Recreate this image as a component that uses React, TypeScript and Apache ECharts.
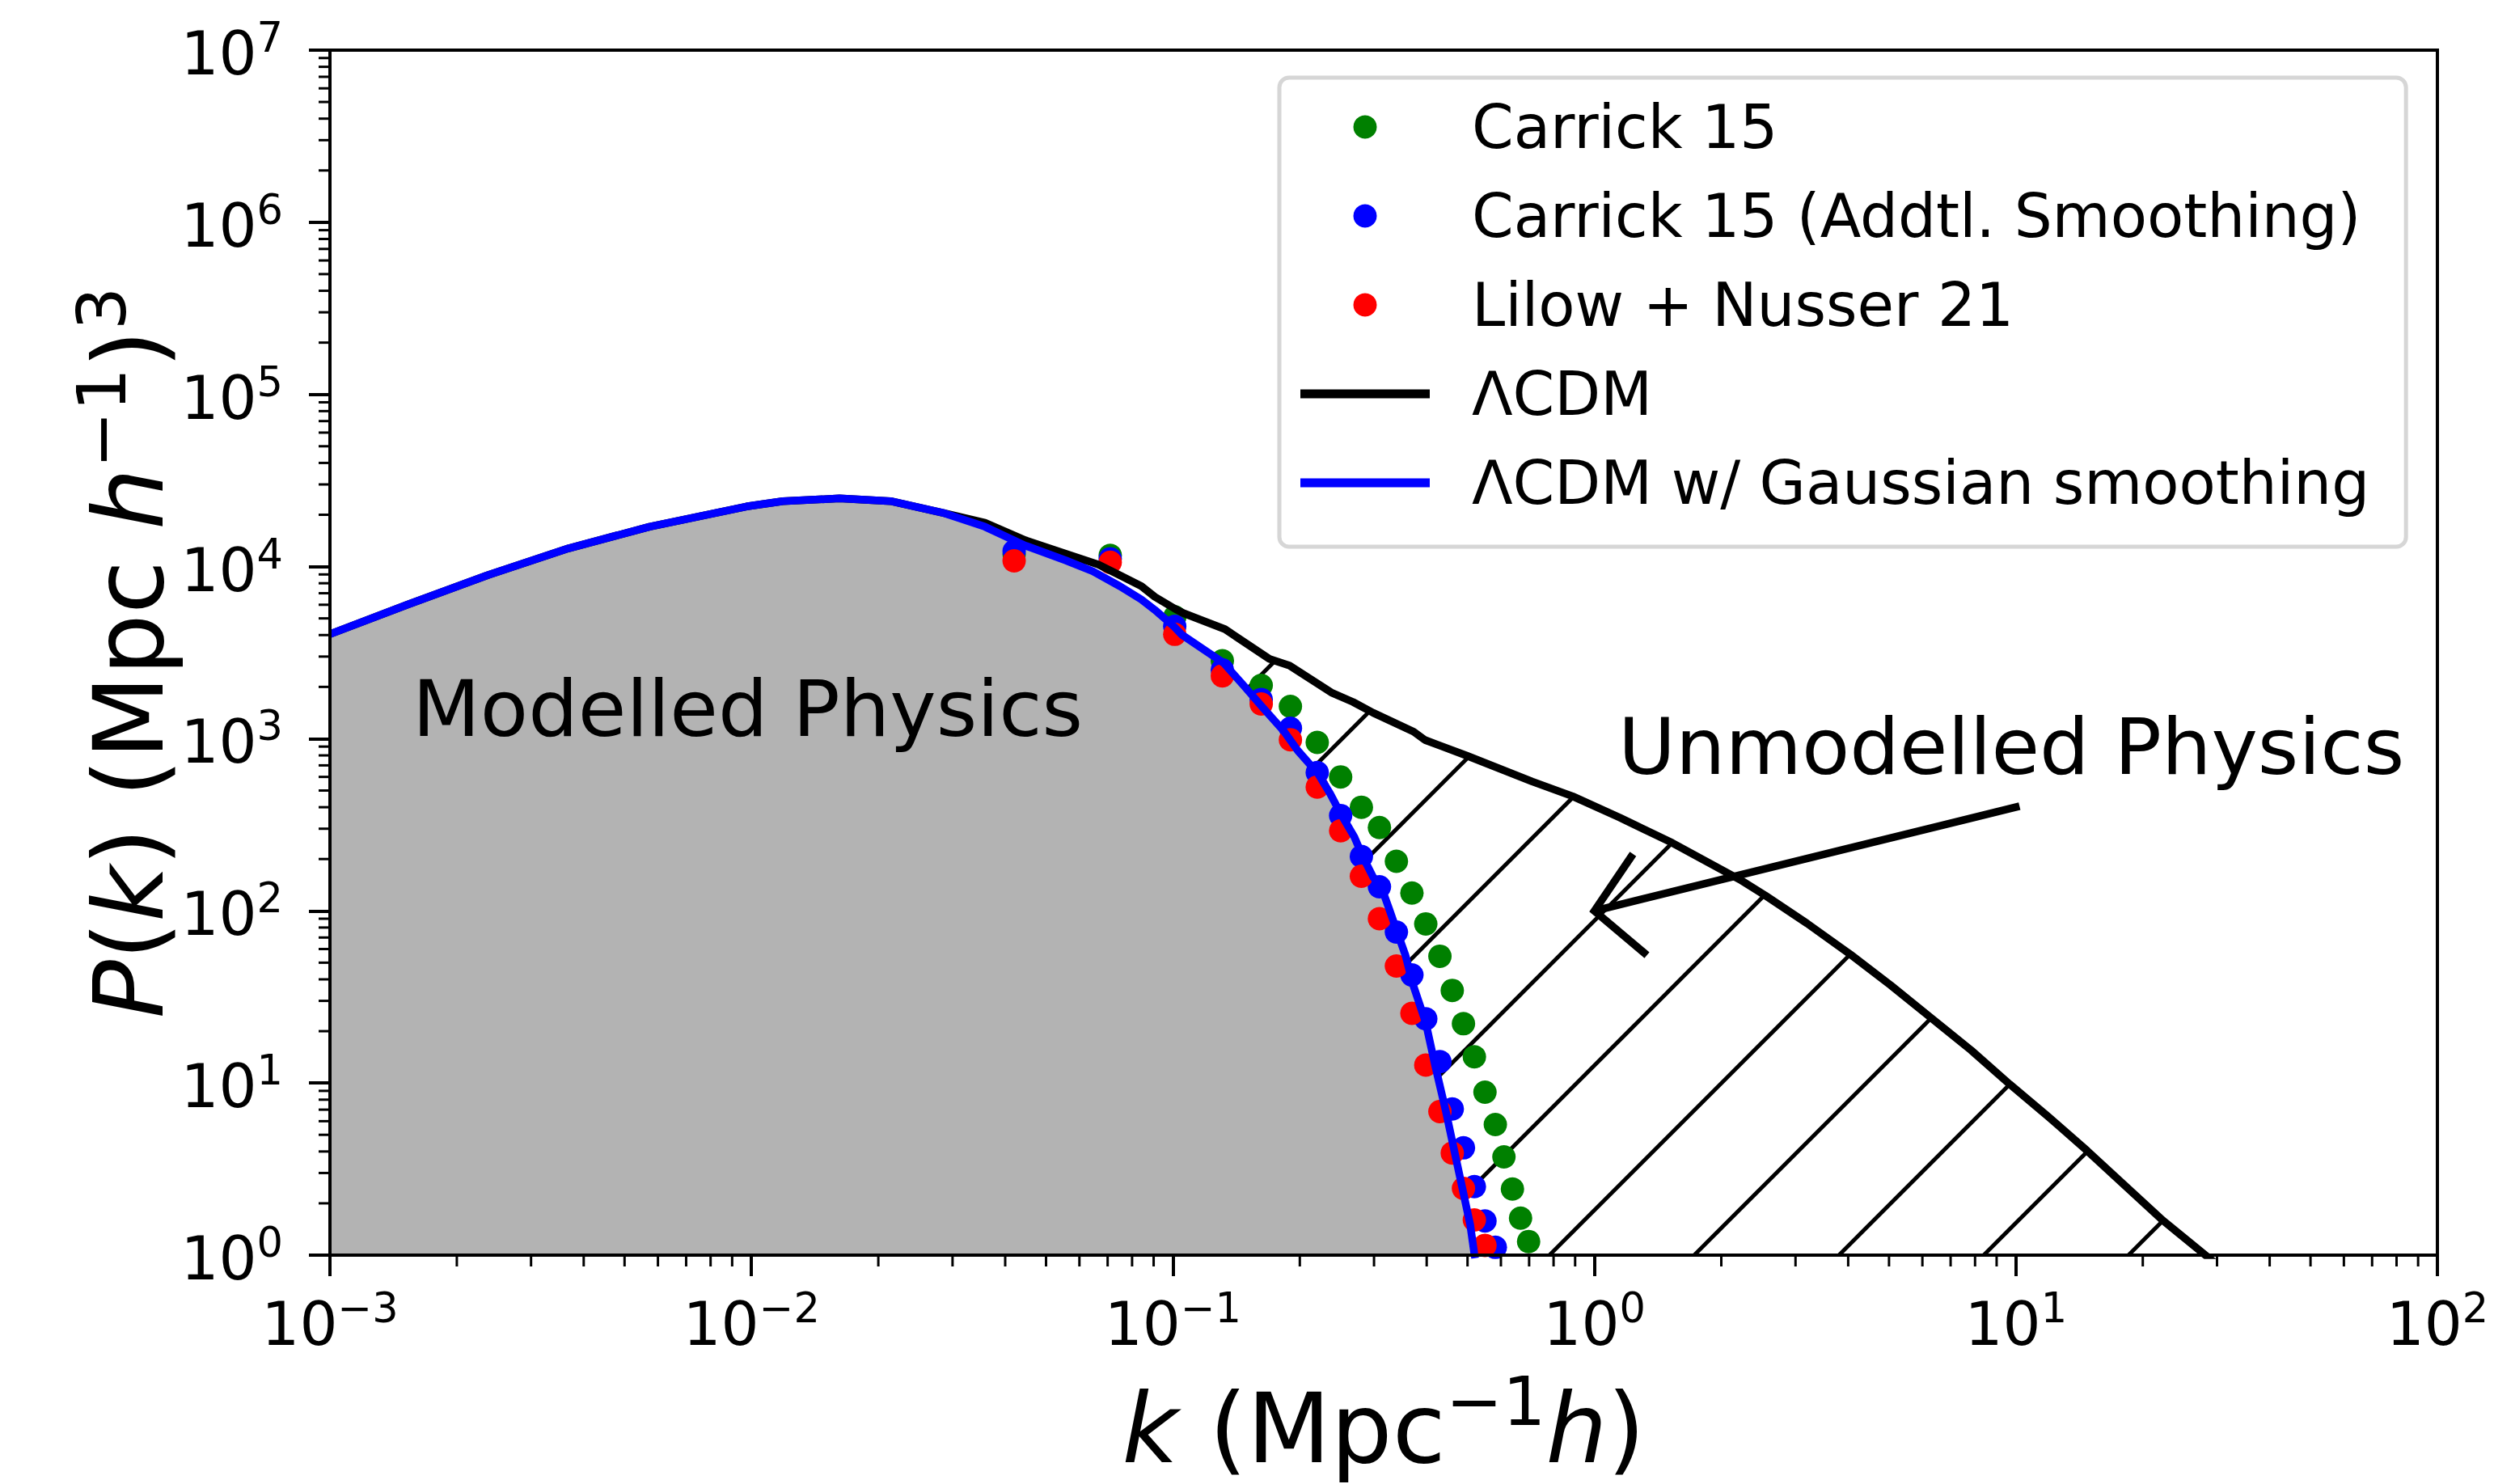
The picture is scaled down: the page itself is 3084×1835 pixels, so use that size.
import React, { useEffect, useRef } from 'react';
import * as echarts from 'echarts';

// ---------------- data ----------------
// wavenumbers of the reconstructed-field points (h/Mpc)
const dataK = [0.042, 0.071, 0.101, 0.131, 0.162, 0.190, 0.220, 0.250, 0.280, 0.309, 0.339, 0.369, 0.398, 0.430, 0.460, 0.489, 0.519, 0.550, 0.582, 0.610, 0.639, 0.668, 0.698];
const carrick15 = [11800, 11600, 5100, 2840, 2040, 1540, 952, 600, 400, 305, 194, 127, 84, 54.5, 34.5, 22.1, 14.2, 8.84, 5.74, 3.72, 2.42, 1.64, 1.20];
const carrick15Smooth = [12300, 11100, 4490, 2510, 1690, 1150, 636, 358, 207, 138, 75.3, 42.4, 23.6, 13.3, 7.07, 4.2, 2.5, 1.58, 1.11];
const lilowNusser21 = [10800, 10580, 4040, 2320, 1590, 987, 524, 292, 159, 90, 47.8, 25.4, 12.7, 6.83, 3.92, 2.44, 1.60, 1.14];

// LambdaCDM linear power spectrum
const lcdmK = [0.001, 0.001521, 0.002366, 0.003681, 0.005727, 0.00973, 0.01187, 0.01617, 0.02139, 0.02872, 0.03581, 0.04467, 0.05572, 0.06648, 0.07477, 0.08414, 0.0906, 0.1009, 0.1057, 0.1329, 0.1694, 0.1891, 0.2376, 0.2674, 0.2985, 0.3724, 0.3962, 0.5000, 0.7118, 0.888, 1.149, 1.531, 2.212, 2.543, 3.194, 4.048, 5.045, 6.283, 7.83, 9.669, 11.94, 14.76, 18.23, 22.33, 28.29, 29.7];
const lcdmP = [4050, 5985, 8903, 12760, 17030, 22330, 23980, 24880, 23980, 20390, 17980, 14220, 11870, 10280, 8903, 7700, 6670, 5700, 5374, 4327, 2910, 2659, 1855, 1635, 1415, 1099, 983, 794, 564, 463, 348, 248, 152, 122.8, 84.6, 55.9, 37.0, 23.95, 15.5, 9.83, 6.37, 4.04, 2.51, 1.59, 0.99, 0.9];

// LambdaCDM with Gaussian smoothing
const smoothK = [0.001, 0.001521, 0.002366, 0.003681, 0.005727, 0.00973, 0.01187, 0.01617, 0.02139, 0.02872, 0.03581, 0.04467, 0.05572, 0.06455, 0.07477, 0.08414, 0.0906, 0.1007, 0.1049, 0.1319, 0.1473, 0.1632, 0.1837, 0.1977, 0.2208, 0.2360, 0.2502, 0.2694, 0.2815, 0.2986, 0.3120, 0.3261, 0.3408, 0.3563, 0.3710, 0.3980, 0.4190, 0.4444, 0.4644, 0.4855, 0.5074, 0.5187, 0.521];
const smoothP = [4050, 5985, 8903, 12760, 17030, 22330, 23980, 24880, 23980, 20390, 17030, 13230, 10850, 9398, 7700, 6436, 5600, 4470, 4024, 2756, 2030, 1520, 1099, 854, 629, 480, 366, 269, 209, 157, 138, 102, 74.9, 55.1, 37.5, 22.4, 12.6, 6.81, 4.11, 2.48, 1.50, 1.025, 0.96];

// axes
const xRange = [1e-3, 1e2];
const yRange = [1, 1e7];
const minorMantissas = [2, 3, 4, 5, 6, 7, 8, 9];
const xMinorDecades = [-3, -2, -1, 0, 1];
const yMinorDecades = [0, 1, 2, 3, 4, 5, 6];

// legend / labels
const seriesNames = ['Carrick 15', 'Carrick 15 (Addtl. Smoothing)', 'Lilow + Nusser 21', 'ΛCDM', 'ΛCDM w/ Gaussian smoothing'];
const annotationTexts = ['Modelled Physics', 'Unmodelled Physics'];
const modelledTextAt = [0.00157, 1490];
const unmodelledTextAt = [9.75, 895];
const arrowTip = [1, 100];
const arrowTail = [10.2, 405];

// ---------------- styles ----------------
const FONT = 'DejaVu Sans';
const GREEN = '#008000';
const BLUE = '#0000ff';
const RED = '#ff0000';
const GREY = '#b3b3b3';
const LINE_W = 9.5;
const HATCH_SPACING = 179;
const HATCH_PHASE = 3631;
const HATCH_W = 5;
const MINOR_LEN = 14;

const zip = (xs: number[], ys: number[]) => ys.map((y, i) => [xs[i], y]);

const xMinorTicks: number[] = [];
xMinorDecades.forEach((e) => minorMantissas.forEach((m) => xMinorTicks.push(m * Math.pow(10, e))));
const yMinorTicks: number[] = [];
yMinorDecades.forEach((e) => minorMantissas.forEach((m) => yMinorTicks.push(m * Math.pow(10, e))));

const expText = (v: number) => {
  const e = Math.round(Math.log10(v));
  return e < 0 ? '\u2212' + String(-e) : String(e);
};
const tickFormatter = (v: number) => '{b|10}{s|' + expText(v) + '}';
const tickRich = {
  b: { fontSize: 74, lineHeight: 82, verticalAlign: 'bottom', color: '#000', fontFamily: FONT },
  s: { fontSize: 51, lineHeight: 50, verticalAlign: 'top', color: '#000', fontFamily: FONT },
};
const nameRich = {
  i: { fontSize: 120, lineHeight: 135, fontStyle: 'italic', verticalAlign: 'bottom', color: '#000', fontFamily: FONT },
  r: { fontSize: 120, lineHeight: 135, verticalAlign: 'bottom', color: '#000', fontFamily: FONT },
  s: { fontSize: 84, lineHeight: 84, verticalAlign: 'top', color: '#000', fontFamily: FONT },
};

function renderHatch(params: any, api: any) {
  const cs = params.coordSys;
  const left = cs.x, top = cs.y, right = cs.x + cs.width, bottom = cs.y + cs.height;
  const poly: number[][] = lcdmK.map((k, i) => api.coord([k, lcdmP[i]]));
  const first = poly[0];
  const last = poly[poly.length - 1];
  poly.push([last[0], bottom + 200]);
  poly.push([first[0], bottom + 200]);
  const children: any[] = [];
  const cMin = left + top;
  const cMax = right + bottom;
  let c = HATCH_PHASE + Math.ceil((cMin - HATCH_PHASE) / HATCH_SPACING) * HATCH_SPACING;
  for (; c <= cMax; c += HATCH_SPACING) {
    const xs: number[] = [];
    for (let i = 0; i < poly.length; i++) {
      const a = poly[i];
      const b = poly[(i + 1) % poly.length];
      const s1 = a[0] + a[1] - c;
      const s2 = b[0] + b[1] - c;
      if ((s1 > 0) !== (s2 > 0)) {
        const t = s1 / (s1 - s2);
        xs.push(a[0] + t * (b[0] - a[0]));
      }
    }
    xs.sort((p, q) => p - q);
    for (let j = 0; j + 1 < xs.length; j += 2) {
      const x1 = Math.max(xs[j], left, c - bottom);
      const x2 = Math.min(xs[j + 1], right, c - top);
      if (x2 > x1) {
        children.push({
          type: 'line',
          shape: { x1, y1: c - x1, x2, y2: c - x2 },
          style: { stroke: '#000', lineWidth: HATCH_W, lineCap: 'butt' },
        });
      }
    }
  }
  return { type: 'group', children };
}

function renderAnnotations(params: any, api: any) {
  const tip = api.coord(arrowTip);
  const tail = api.coord(arrowTail);
  const dx = tail[0] - tip[0];
  const dy = tail[1] - tip[1];
  const len = Math.hypot(dx, dy);
  const ux = dx / len;
  const uy = dy / len;
  const rot = (deg: number) => {
    const a = (deg * Math.PI) / 180;
    return [ux * Math.cos(a) - uy * Math.sin(a), ux * Math.sin(a) + uy * Math.cos(a)];
  };
  const up = rot(-42);
  const lo = rot(54);
  const headLen = 85;
  const p1 = api.coord(modelledTextAt);
  const p2 = api.coord(unmodelledTextAt);
  return {
    type: 'group',
    children: [
      {
        type: 'text',
        x: p1[0],
        y: p1[1],
        style: { text: annotationTexts[0], fontSize: 97, fontFamily: FONT, fill: '#000', align: 'left', verticalAlign: 'middle' },
      },
      {
        type: 'text',
        x: p2[0],
        y: p2[1],
        style: { text: annotationTexts[1], fontSize: 97, fontFamily: FONT, fill: '#000', align: 'center', verticalAlign: 'middle' },
      },
      {
        type: 'line',
        shape: { x1: tail[0], y1: tail[1], x2: tip[0], y2: tip[1] },
        style: { stroke: '#000', lineWidth: LINE_W, lineCap: 'butt' },
      },
      {
        type: 'polyline',
        shape: {
          points: [
            [tip[0] + up[0] * headLen, tip[1] + up[1] * headLen],
            [tip[0], tip[1]],
            [tip[0] + lo[0] * headLen, tip[1] + lo[1] * headLen],
          ],
        },
        style: { stroke: '#000', fill: null, lineWidth: LINE_W, lineJoin: 'miter', lineCap: 'butt' },
      },
    ],
  };
}

function renderMinorTicks(params: any, api: any) {
  const cs = params.coordSys;
  const bottom = cs.y + cs.height;
  const left = cs.x;
  const children: any[] = [];
  xMinorTicks.forEach((v) => {
    const x = api.coord([v, 10])[0];
    children.push({ type: 'line', shape: { x1: x, y1: bottom, x2: x, y2: bottom + MINOR_LEN }, style: { stroke: '#000', lineWidth: 3 } });
  });
  yMinorTicks.forEach((v) => {
    const y = api.coord([1, v])[1];
    children.push({ type: 'line', shape: { x1: left - MINOR_LEN, y1: y, x2: left, y2: y }, style: { stroke: '#000', lineWidth: 3 } });
  });
  return { type: 'group', children };
}

const axisCommon = {
  type: 'log',
  logBase: 10,
  z: 8,
  axisLine: { show: true, lineStyle: { color: '#000', width: 4 } },
  axisTick: { show: true, inside: false, length: 26, lineStyle: { color: '#000', width: 4 } },
  minorTick: { show: false },
  splitLine: { show: false },
  minorSplitLine: { show: false },
  nameLocation: 'middle',
  nameMoveOverlap: false,
};

const linePath = 'path://M0 0L160 0L160 11L0 11Z';

const option: any = {
  animation: false,
  backgroundColor: '#ffffff',
  textStyle: { fontFamily: FONT, color: '#000' },
  tooltip: { show: false },
  grid: {
    left: 400,
    top: 54,
    right: 78,
    bottom: 291,
    show: true,
    borderColor: '#000',
    borderWidth: 4,
    backgroundColor: 'transparent',
    containLabel: false,
    outerBoundsMode: 'none',
  },
  legend: {
    show: true,
    orient: 'vertical',
    left: 1574,
    top: 88,
    align: 'left',
    itemWidth: 160,
    itemHeight: 29,
    itemGap: 20,
    padding: [16, 45, 34, 26],
    backgroundColor: '#ffffff',
    borderColor: '#d6d6d6',
    borderWidth: 5,
    borderRadius: 12,
    selectedMode: false,
    symbolKeepAspect: true,
    z: 10,
    textStyle: { fontSize: 74, lineHeight: 90, color: '#000', fontFamily: FONT, padding: [0, 0, 0, 47] },
    data: [
      { name: seriesNames[0], icon: 'circle', itemStyle: { color: GREEN } },
      { name: seriesNames[1], icon: 'circle', itemStyle: { color: BLUE } },
      { name: seriesNames[2], icon: 'circle', itemStyle: { color: RED } },
      { name: seriesNames[3], icon: linePath, itemStyle: { color: '#000' } },
      { name: seriesNames[4], icon: linePath, itemStyle: { color: BLUE } },
    ],
  },
  xAxis: {
    ...axisCommon,
    min: xRange[0],
    max: xRange[1],
    axisLabel: { show: true, margin: 40, formatter: tickFormatter, rich: tickRich, color: '#000', hideOverlap: false, showMinLabel: true, showMaxLabel: true },
    name: '{i|k}{r| (Mpc}{s|\u22121}{i|h}{r|)}',
    nameGap: 139,
    nameTextStyle: { fontSize: 120, color: '#000', fontFamily: FONT, rich: nameRich },
  },
  yAxis: {
    ...axisCommon,
    min: yRange[0],
    max: yRange[1],
    axisLabel: { show: true, margin: 58, formatter: tickFormatter, rich: tickRich, color: '#000', hideOverlap: false, showMinLabel: true, showMaxLabel: true },
    name: '{i|P}{r|(}{i|k}{r|) (Mpc }{i|h}{s|\u22121}{r|)}{s|3}',
    nameGap: 189,
    nameRotate: 90,
    nameTextStyle: { fontSize: 120, color: '#000', fontFamily: FONT, rich: nameRich },
  },
  series: [
    {
      type: 'custom',
      name: 'hatch',
      renderItem: renderHatch,
      data: [[1, 10]],
      z: 1,
      silent: true,
      clip: false,
    },
    {
      type: 'line',
      name: 'smoothFill',
      data: zip(smoothK, smoothP),
      symbol: 'none',
      showSymbol: false,
      lineStyle: { width: 0, opacity: 0 },
      areaStyle: { color: GREY, opacity: 1, origin: 'start' },
      z: 2,
      silent: true,
    },
    {
      type: 'scatter',
      name: seriesNames[0],
      data: zip(dataK, carrick15),
      symbol: 'circle',
      symbolSize: 29,
      itemStyle: { color: GREEN, opacity: 1 },
      emphasis: { disabled: true },
      z: 3,
    },
    {
      type: 'scatter',
      name: seriesNames[1],
      data: zip(dataK, carrick15Smooth),
      symbol: 'circle',
      symbolSize: 29,
      itemStyle: { color: BLUE, opacity: 1 },
      emphasis: { disabled: true },
      z: 3,
    },
    {
      type: 'scatter',
      name: seriesNames[2],
      data: zip(dataK, lilowNusser21),
      symbol: 'circle',
      symbolSize: 29,
      itemStyle: { color: RED, opacity: 1 },
      emphasis: { disabled: true },
      z: 3,
    },
    {
      type: 'line',
      name: seriesNames[3],
      data: zip(lcdmK, lcdmP),
      color: '#000',
      symbol: 'none',
      showSymbol: false,
      lineStyle: { color: '#000', width: LINE_W, join: 'round', cap: 'butt' },
      itemStyle: { color: '#000' },
      emphasis: { disabled: true },
      z: 4,
    },
    {
      type: 'line',
      name: seriesNames[4],
      data: zip(smoothK, smoothP),
      color: BLUE,
      symbol: 'none',
      showSymbol: false,
      lineStyle: { color: BLUE, width: LINE_W, join: 'round', cap: 'butt' },
      itemStyle: { color: BLUE },
      emphasis: { disabled: true },
      z: 5,
    },
    {
      type: 'custom',
      name: 'annotations',
      renderItem: renderAnnotations,
      data: [[1, 10]],
      z: 6,
      silent: true,
      clip: false,
    },
    {
      type: 'custom',
      name: 'minorTicks',
      renderItem: renderMinorTicks,
      data: [[1, 10]],
      z: 9,
      silent: true,
      clip: false,
    },
  ],
};

export default function App() {
  const ref = useRef<HTMLDivElement>(null);
  useEffect(() => {
    if (!ref.current) return;
    const chart = echarts.init(ref.current, undefined, { renderer: 'svg', width: 3084, height: 1835 });
    chart.setOption(option);
    return () => {
      chart.dispose();
    };
  }, []);
  return (
    <div
      ref={ref}
      style={{ position: 'fixed', left: 0, top: 0, width: 3084, height: 1835, background: '#ffffff' }}
    />
  );
}
